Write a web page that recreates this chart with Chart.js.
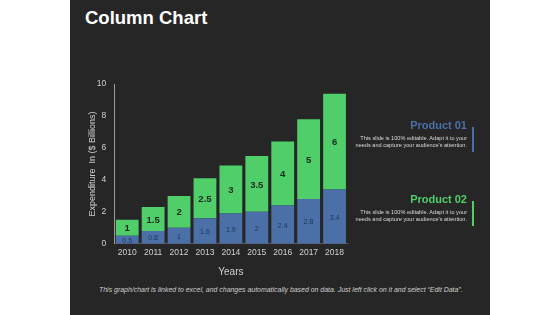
<!DOCTYPE html>
<html>
<head>
<meta charset="utf-8">
<script src="https://cdn.jsdelivr.net/npm/chart.js@4"></script>
<style>
    body { margin: 0; background: #ffffff; width: 560px; height: 315px; overflow: hidden; font-family: "Liberation Sans", Arial, sans-serif; }
    .slide { position: absolute; left: 70px; top: 0; width: 420px; height: 315px; background: #262626; overflow: hidden; }
    .title { position: absolute; left: 15px; top: 7px; color: #ffffff; font-size: 18.5px; font-weight: bold; }
    .chart-box { position: absolute; left: 8px; top: 71px; width: 270px; height: 211px; }
    .legend { position: absolute; right: 23px; width: 140px; text-align: right; }
    .legend h4 { margin: 0; font-size: 11px; font-weight: bold; }
    .legend p { margin: 4px 0 0 0; font-size: 5.6px; line-height: 7px; color: #d9d9d9; }
    .legend .bar { position: absolute; right: -7px; top: 8px; width: 2px; height: 25px; }
    .footer { position: absolute; left: 29px; top: 286px; color: #cfcfcf; font-size: 6.95px; font-style: italic; }
</style>
</head>
<body>
<div class="slide">
    <div class="title">Column Chart</div>
    <div class="chart-box"><canvas id="columnChart"></canvas></div>

    <div class="legend" style="top: 119px;">
        <h4 style="color: #4a6fa8;">Product 01</h4>
        <p>This slide is 100% editable. Adapt it to your<br>needs and capture your audience's attention.</p>
        <div class="bar" style="background: #4a6fa8;"></div>
    </div>
    <div class="legend" style="top: 193px;">
        <h4 style="color: #4fce69;">Product 02</h4>
        <p>This slide is 100% editable. Adapt it to your<br>needs and capture your audience's attention.</p>
        <div class="bar" style="background: #4fce69;"></div>
    </div>

    <div class="footer">This graph/chart is linked to excel, and changes automatically based on data. Just left click on it and select “Edit Data”.</div>
</div>

<script>
// Chart data
const years = ['2010', '2011', '2012', '2013', '2014', '2015', '2016', '2017', '2018'];
const product01 = [0.5, 0.8, 1, 1.6, 1.9, 2, 2.4, 2.8, 3.4];
const product02 = [1, 1.5, 2, 2.5, 3, 3.5, 4, 5, 6];
const yTicks = [0, 2, 4, 6, 8, 10];

// Draw the value inside each bar
const barLabels = {
    id: 'barLabels',
    afterDatasetsDraw(chart) {
        const ctx = chart.ctx;
        ctx.save();
        ctx.textAlign = 'center';
        ctx.textBaseline = 'middle';
        chart.data.datasets.forEach((ds, i) => {
            const meta = chart.getDatasetMeta(i);
            meta.data.forEach((bar, j) => {
                const mid = (bar.y + bar.base) / 2;
                if (i === 0) {
                    ctx.font = '7px "Liberation Sans", Arial, sans-serif';
                    ctx.fillStyle = '#1f3458';
                } else {
                    ctx.font = 'bold 9.5px "Liberation Sans", Arial, sans-serif';
                    ctx.fillStyle = '#1b2a1d';
                }
                ctx.fillText(ds.data[j], bar.x, mid + 1);
            });
        });
        ctx.restore();
    }
};

new Chart(document.getElementById('columnChart'), {
    type: 'bar',
    data: {
        labels: years,
        datasets: [{
            label: 'Product 01',
            data: product01,
            backgroundColor: '#4b70a8'
        }, {
            label: 'Product 02',
            data: product02,
            backgroundColor: '#4fce69'
        }]
    },
    options: {
        responsive: true,
        maintainAspectRatio: false,
        animation: false,
        categoryPercentage: 1,
        barPercentage: 0.88,
        plugins: {
            legend: { display: false },
            tooltip: { enabled: false }
        },
        layout: {
            padding: { left: 0, right: 0, top: 1, bottom: 0 }
        },
        scales: {
            x: {
                stacked: true,
                grid: { display: false, drawTicks: false },
                border: { display: true, color: '#5a5a5a' },
                ticks: { color: '#d0d0d0', font: { size: 8.5 }, padding: 4 },
                title: { display: true, text: 'Years', color: '#d0d0d0', font: { size: 10 }, padding: { top: 4 } }
            },
            y: {
                stacked: true,
                min: 0,
                max: 10,
                afterBuildTicks(axis) {
                    axis.ticks = yTicks.map(v => ({ value: v }));
                },
                grid: { display: false, drawTicks: false },
                border: { display: true, color: '#9a9a9a' },
                ticks: { color: '#d0d0d0', font: { size: 8.5 }, padding: 8 },
                title: { display: true, text: 'Expenditure  In ($ Billions)', color: '#d0d0d0', font: { size: 9 }, padding: { top: 9, bottom: -9 } }
            }
        }
    },
    plugins: [barLabels]
});
</script>
</body>
</html>
